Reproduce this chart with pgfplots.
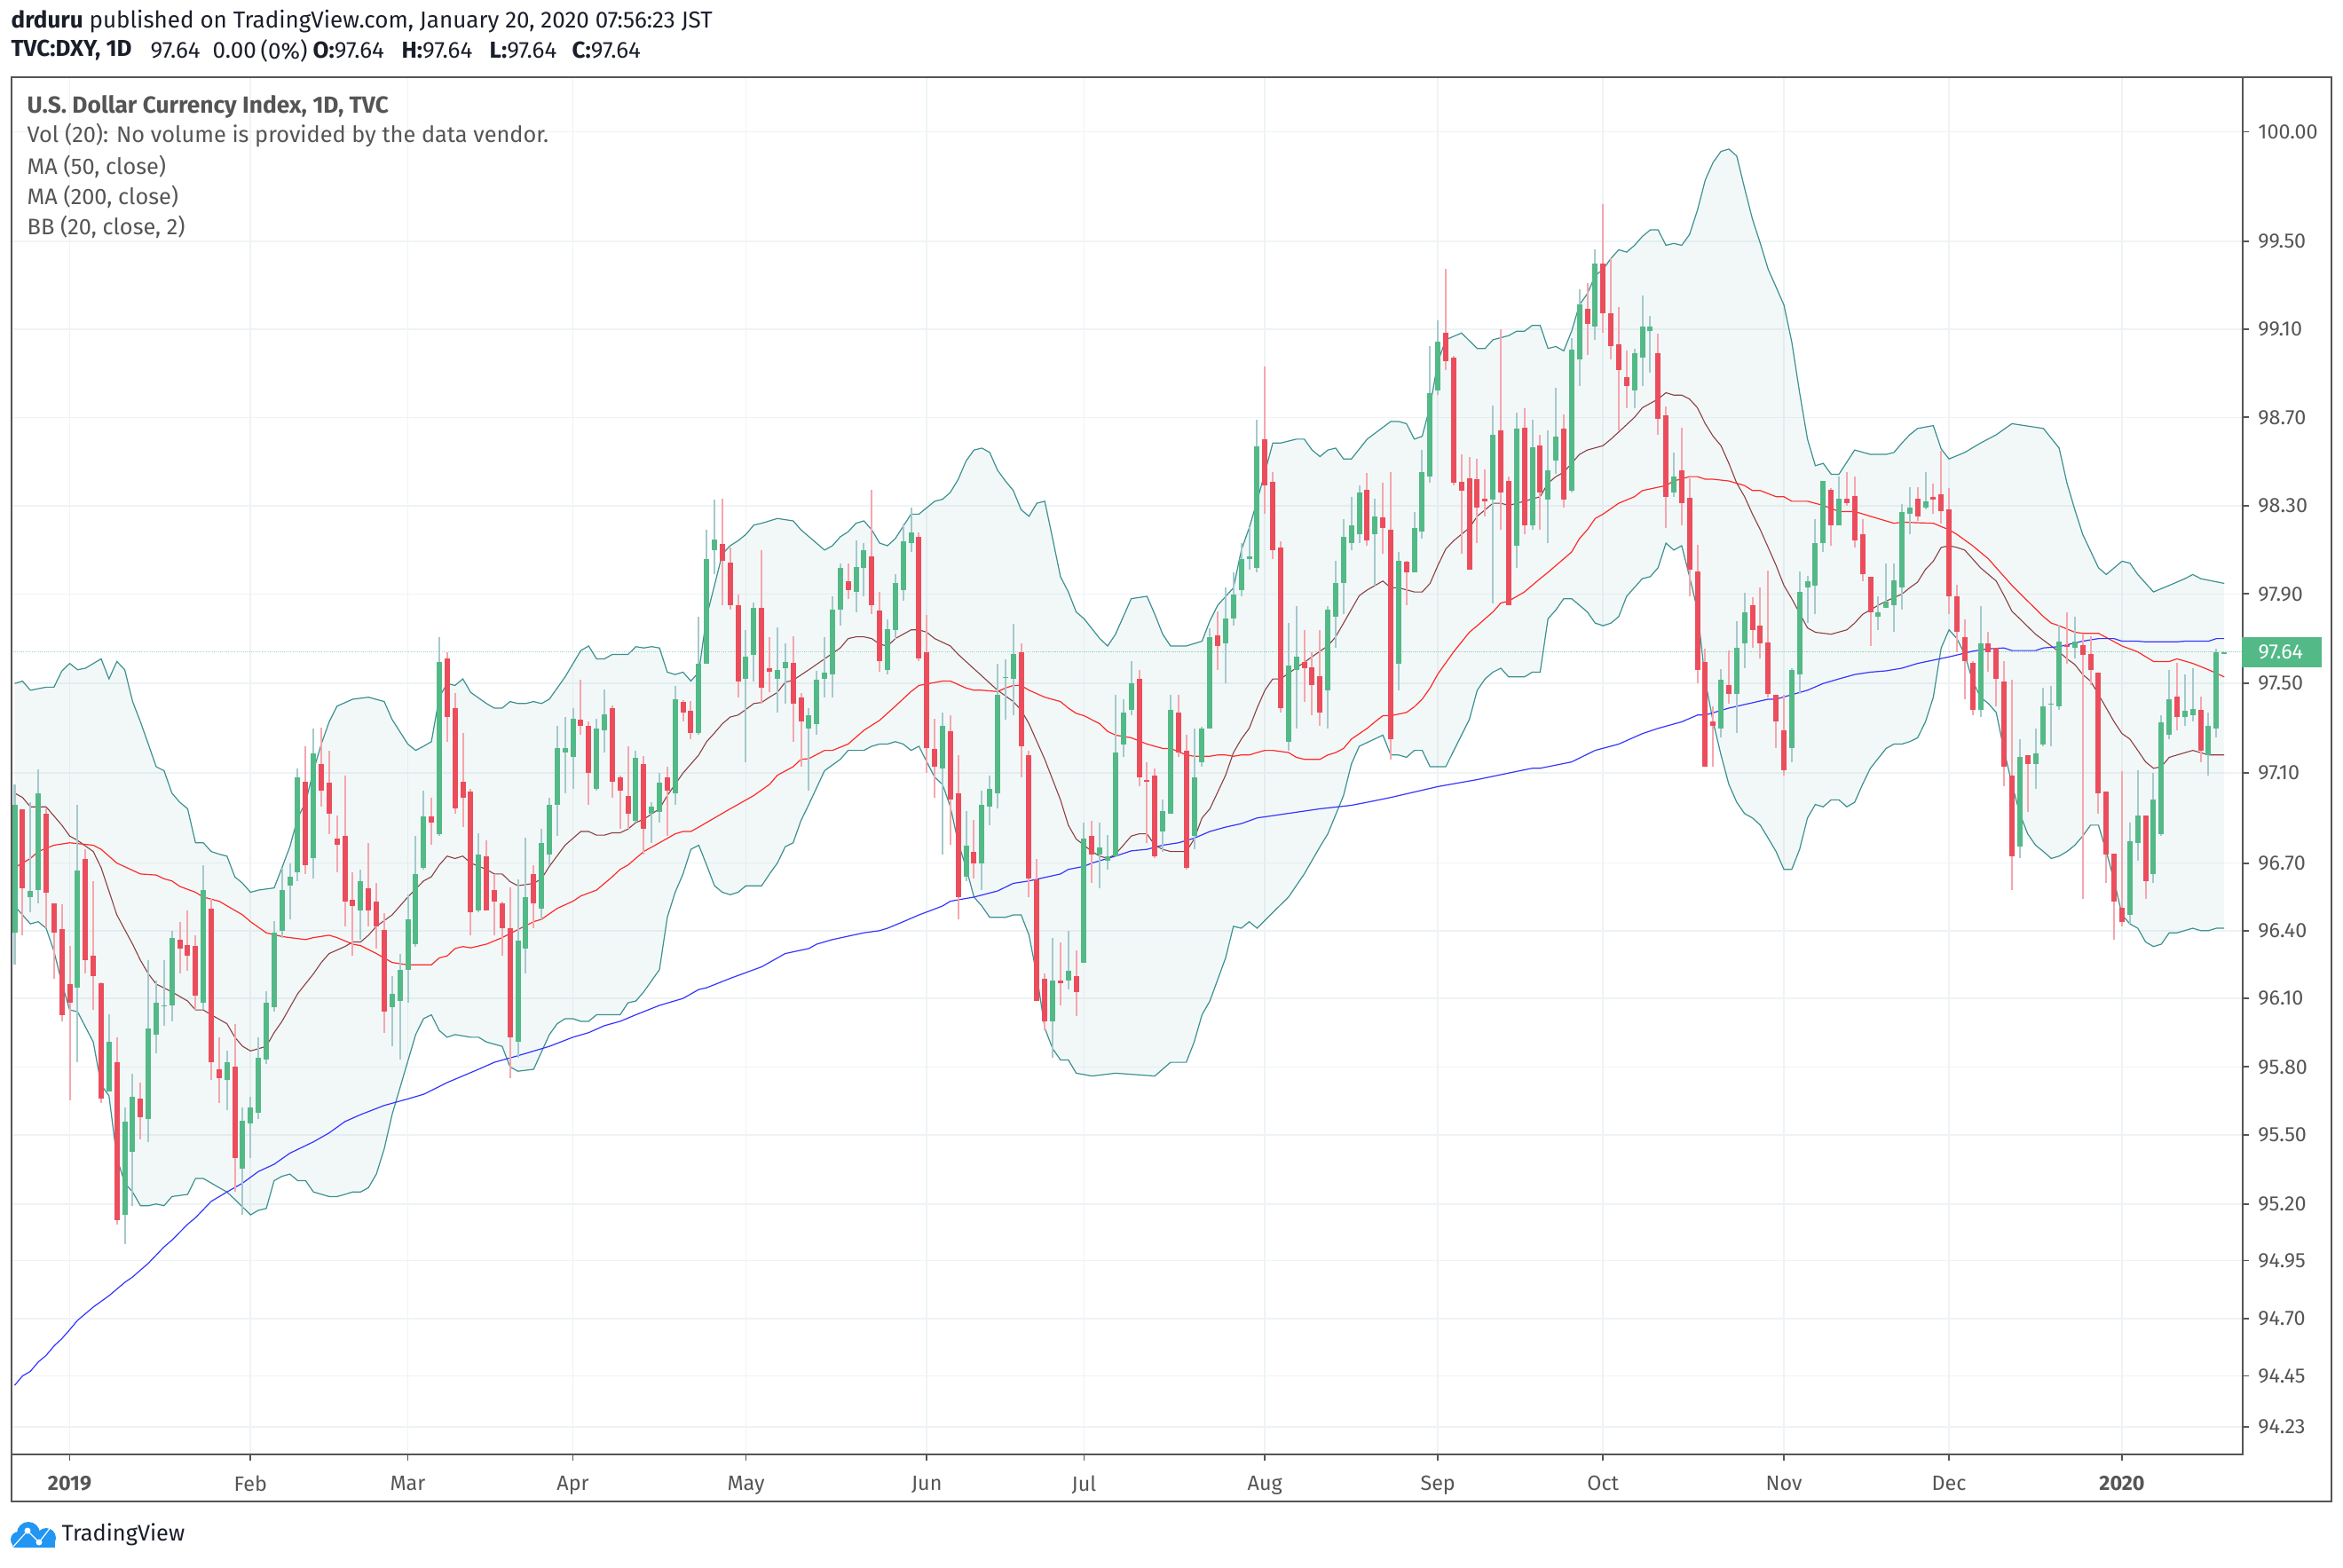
\documentclass[border=0pt]{standalone}
\usepackage{fontspec}
\setmainfont{Fira Sans}
\usepackage{pgfplots}
\usepackage{pgfplotstable}
\pgfplotsset{compat=1.18}
\usepgfplotslibrary{fillbetween}
\definecolor{upc}{HTML}{53B987}
\definecolor{dnc}{HTML}{EB4D5C}
\definecolor{upw}{HTML}{A5C9CC}
\definecolor{dnw}{HTML}{F5A6AE}
\definecolor{bbc}{HTML}{3C9090}
\definecolor{ma20}{HTML}{8B3F42}
\definecolor{ma50}{HTML}{FF2A2A}
\definecolor{ma200}{HTML}{3434FF}
\definecolor{gridc}{HTML}{EFF3F6}
\definecolor{framec}{HTML}{555555}
\definecolor{headc}{HTML}{1A1E2A}
\definecolor{logoc}{HTML}{2196F3}

\pgfplotstableread{
i o h l c
0 96.39 97.05 96.25 96.96
1 96.94 96.94 96.38 96.59
2 96.55 96.97 96.48 96.58
3 96.58 97.12 96.52 97.01
4 96.92 96.94 96.41 96.57
5 96.52 96.52 96.19 96.39
6 96.41 96.52 96.00 96.03
7 96.16 96.33 95.65 96.08
8 96.15 96.96 95.82 96.67
9 96.72 96.76 96.21 96.27
10 96.29 96.62 96.05 96.20
11 96.17 96.17 95.64 95.66
12 95.69 96.03 95.69 95.91
13 95.82 95.93 95.11 95.13
14 95.15 95.62 95.02 95.56
15 95.43 95.77 95.19 95.67
16 95.66 95.73 95.48 95.58
17 95.57 96.27 95.47 95.97
18 95.94 96.18 95.86 96.08
19 96.065 96.27 95.98 96.07
20 96.07 96.40 96.00 96.37
21 96.36 96.44 96.21 96.32
22 96.34 96.49 96.22 96.29
23 96.33 96.38 96.05 96.11
24 96.08 96.69 96.05 96.58
25 96.50 96.54 95.74 95.82
26 95.79 95.93 95.64 95.75
27 95.74 95.87 95.61 95.82
28 95.80 95.99 95.25 95.40
29 95.35 95.62 95.15 95.56
30 95.55 95.67 95.40 95.62
31 95.60 95.93 95.57 95.84
32 95.83 96.13 95.81 96.08
33 96.06 96.44 96.04 96.39
34 96.40 96.68 96.37 96.58
35 96.60 96.70 96.45 96.64
36 96.66 97.12 96.62 97.08
37 97.06 97.22 96.65 96.69
38 96.72 97.30 96.63 97.19
39 97.14 97.30 96.95 97.02
40 97.06 97.20 96.83 96.92
41 96.81 96.91 96.66 96.78
42 96.82 97.09 96.42 96.53
43 96.54 96.66 96.29 96.51
44 96.49 96.67 96.36 96.62
45 96.59 96.79 96.42 96.49
46 96.53 96.61 96.32 96.42
47 96.40 96.48 95.95 96.04
48 96.06 96.20 95.89 96.12
49 96.09 96.30 95.83 96.23
50 96.23 96.56 96.08 96.45
51 96.34 96.82 96.33 96.65
52 96.68 97.02 96.67 96.91
53 96.91 96.99 96.78 96.88
54 96.83 97.71 96.82 97.60
55 97.61 97.64 97.24 97.35
56 97.39 97.46 96.92 96.94
57 97.06 97.28 96.86 96.99
58 97.02 97.03 96.38 96.48
59 96.49 96.83 96.48 96.74
60 96.73 96.80 96.49 96.49
61 96.58 96.65 96.38 96.53
62 96.52 96.53 96.29 96.41
63 96.41 96.59 95.75 95.93
64 95.91 96.63 95.84 96.36
65 96.32 96.81 96.21 96.55
66 96.65 96.69 96.41 96.52
67 96.50 96.85 96.45 96.79
68 96.74 96.99 96.69 96.96
69 96.96 97.31 96.82 97.21
70 97.19 97.35 97.01 97.21
71 97.17 97.39 97.03 97.34
72 97.34 97.52 97.27 97.31
73 97.31 97.33 96.96 97.10
74 97.03 97.34 97.02 97.30
75 97.29 97.47 97.19 97.36
76 97.39 97.40 96.99 97.06
77 97.08 97.09 96.85 97.02
78 97.00 97.22 96.85 96.92
79 96.89 97.20 96.88 97.17
80 97.14 97.18 96.74 96.85
81 96.92 96.97 96.79 96.95
82 96.93 97.10 96.88 97.06
83 97.08 97.13 96.82 97.02
84 97.01 97.49 96.96 97.43
85 97.42 97.43 97.33 97.37
86 97.38 97.42 97.25 97.28
87 97.28 97.80 97.27 97.59
88 97.59 98.19 97.59 98.06
89 98.10 98.33 97.99 98.15
90 98.13 98.33 97.85 98.05
91 98.04 98.11 97.83 97.85
92 97.85 97.90 97.44 97.51
93 97.52 97.74 97.15 97.62
94 97.63 97.86 97.51 97.84
95 97.84 98.10 97.41 97.48
96 97.57 97.71 97.46 97.55
97 97.52 97.75 97.37 97.56
98 97.57 97.68 97.41 97.60
99 97.59 97.71 97.24 97.41
100 97.44 97.46 97.13 97.33
101 97.30 97.39 97.02 97.36
102 97.32 97.56 97.27 97.52
103 97.52 97.71 97.44 97.55
104 97.54 97.89 97.44 97.83
105 97.83 98.04 97.76 98.02
106 97.96 98.04 97.88 97.92
107 97.91 98.14 97.82 98.02
108 98.02 98.13 97.89 98.10
109 98.07 98.37 97.81 97.85
110 97.83 97.91 97.55 97.60
111 97.56 97.79 97.54 97.74
112 97.74 97.99 97.70 97.95
113 97.92 98.22 97.87 98.14
114 98.13 98.29 98.09 98.18
115 98.16 98.18 97.60 97.61
116 97.64 97.81 97.10 97.21
117 97.21 97.34 96.99 97.13
118 97.12 97.37 96.74 97.31
119 97.29 97.36 96.78 96.98
120 97.01 97.18 96.45 96.55
121 96.64 96.93 96.62 96.78
122 96.75 96.89 96.63 96.70
123 96.70 97.02 96.58 96.96
124 96.95 97.09 96.87 97.03
125 97.01 97.59 96.94 97.45
126 97.525 97.61 97.34 97.53
127 97.52 97.77 97.36 97.63
128 97.64 97.68 97.08 97.22
129 97.18 97.20 96.55 96.63
130 96.63 96.72 96.09 96.09
131 96.19 96.21 95.96 96.00
132 96.00 96.37 95.84 96.18
133 96.18 96.35 96.07 96.17
134 96.18 96.40 96.14 96.22
135 96.20 96.31 96.02 96.13
136 96.26 96.88 96.26 96.81
137 96.82 96.89 96.61 96.74
138 96.74 96.88 96.59 96.77
139 96.71 96.82 96.67 96.73
140 96.73 97.45 96.73 97.19
141 97.23 97.43 97.17 97.37
142 97.38 97.60 97.36 97.50
143 97.52 97.56 97.04 97.08
144 97.07 97.15 96.79 97.06
145 97.09 97.12 96.72 96.73
146 96.84 96.98 96.75 96.93
147 96.92 97.45 96.92 97.38
148 97.37 97.45 97.17 97.19
149 97.20 97.27 96.67 96.68
150 96.82 97.30 96.76 97.08
151 97.15 97.31 97.13 97.30
152 97.30 97.75 97.30 97.71
153 97.72 97.82 97.56 97.67
154 97.68 97.93 97.50 97.79
155 97.79 98.00 97.76 97.90
156 97.92 98.13 97.89 98.06
157 98.06 98.20 98.01 98.07
158 98.02 98.69 98.00 98.57
159 98.60 98.93 98.26 98.39
160 98.41 98.45 98.06 98.10
161 98.11 98.14 97.37 97.39
162 97.24 97.77 97.20 97.58
163 97.56 97.85 97.30 97.62
164 97.60 97.74 97.42 97.57
165 97.57 97.64 97.36 97.49
166 97.53 97.74 97.31 97.37
167 97.47 97.85 97.30 97.83
168 97.80 98.05 97.66 97.95
169 97.95 98.24 97.81 98.16
170 98.13 98.34 98.10 98.21
171 98.17 98.39 98.13 98.36
172 98.37 98.45 98.12 98.14
173 98.17 98.33 97.94 98.25
174 98.25 98.40 98.08 98.20
175 98.19 98.45 97.16 97.25
176 97.59 98.09 97.47 98.05
177 98.05 98.05 97.85 98.00
178 98.00 98.27 98.00 98.20
179 98.18 98.55 98.15 98.45
180 98.43 99.02 98.40 98.81
181 98.82 99.14 98.80 99.04
182 99.08 99.37 98.91 98.95
183 98.97 98.98 98.39 98.40
184 98.41 98.53 98.08 98.37
185 98.42 98.52 98.01 98.01
186 98.42 98.51 98.13 98.29
187 98.33 98.46 98.25 98.32
188 98.33 98.75 97.86 98.62
189 98.64 99.10 98.19 98.36
190 98.41 98.43 97.85 97.85
191 98.12 98.72 98.02 98.65
192 98.65 98.74 98.17 98.21
193 98.21 98.69 98.19 98.56
194 98.57 98.62 98.19 98.36
195 98.33 98.64 98.13 98.46
196 98.50 98.83 98.44 98.61
197 98.65 98.71 98.29 98.33
198 98.37 99.06 98.36 99.01
199 98.96 99.28 98.84 99.21
200 99.19 99.31 98.98 99.12
201 99.11 99.46 99.05 99.40
202 99.40 99.67 99.08 99.17
203 99.17 99.42 98.96 99.02
204 99.03 99.20 98.64 98.91
205 98.88 99.00 98.74 98.84
206 98.82 99.01 98.74 98.99
207 98.97 99.25 98.84 99.11
208 99.09 99.16 98.90 99.11
209 98.99 99.08 98.62 98.69
210 98.71 98.75 98.20 98.34
211 98.36 98.54 98.34 98.43
212 98.46 98.65 98.21 98.31
213 98.33 98.42 97.89 98.01
214 98.00 98.12 97.50 97.56
215 97.60 97.66 97.13 97.13
216 97.33 97.40 97.13 97.31
217 97.30 97.57 97.26 97.52
218 97.49 97.65 97.41 97.45
219 97.45 97.78 97.28 97.66
220 97.68 97.91 97.57 97.82
221 97.85 97.89 97.66 97.74
222 97.76 97.93 97.61 97.68
223 97.68 98.01 97.44 97.45
224 97.45 97.45 97.21 97.33
225 97.29 97.45 97.09 97.11
226 97.21 97.57 97.15 97.56
227 97.54 98.00 97.45 97.91
228 97.93 97.98 97.77 97.96
229 97.94 98.24 97.81 98.13
230 98.13 98.41 98.09 98.41
231 98.37 98.38 98.12 98.21
232 98.21 98.43 98.21 98.33
233 98.33 98.45 98.30 98.31
234 98.34 98.43 98.11 98.14
235 98.17 98.24 97.96 97.99
236 97.98 97.98 97.67 97.82
237 97.80 97.89 97.74 97.82
238 97.84 98.04 97.84 97.87
239 97.85 98.04 97.73 97.96
240 97.93 98.31 97.83 98.27
241 98.26 98.38 98.17 98.29
242 98.33 98.38 98.23 98.25
243 98.29 98.45 98.28 98.32
244 98.34 98.40 98.26 98.33
245 98.35 98.55 98.22 98.27
246 98.28 98.38 97.81 97.89
247 97.89 97.94 97.64 97.73
248 97.71 97.79 97.43 97.60
249 97.59 97.60 97.36 97.38
250 97.38 97.85 97.35 97.68
251 97.68 97.73 97.55 97.64
252 97.66 97.66 97.40 97.52
253 97.51 97.60 97.04 97.13
254 97.09 97.52 96.58 96.73
255 96.77 97.25 96.72 97.17
256 97.18 97.18 96.93 97.14
257 97.14 97.30 97.03 97.19
258 97.23 97.48 97.22 97.40
259 97.405 97.49 97.22 97.41
260 97.40 97.76 97.38 97.69
261 97.67 97.82 97.59 97.665
262 97.66 97.80 97.61 97.69
263 97.67 97.72 96.54 97.63
264 97.63 97.71 97.49 97.56
265 97.55 97.55 96.92 97.01
266 97.02 97.02 96.61 96.74
267 96.74 96.74 96.36 96.53
268 96.50 97.11 96.42 96.44
269 96.47 96.88 96.43 96.80
270 96.79 97.11 96.71 96.91
271 96.91 96.91 96.54 96.62
272 96.65 97.10 96.61 96.98
273 96.83 97.36 96.82 97.33
274 97.27 97.56 97.25 97.43
275 97.44 97.59 97.29 97.35
276 97.35 97.54 97.31 97.38
277 97.36 97.57 97.33 97.39
278 97.38 97.44 97.15 97.20
279 97.18 97.37 97.09 97.31
280 97.30 97.66 97.26 97.64
281 97.636 97.64 97.636 97.64
}\candles

\begin{document}
\begin{tikzpicture}
\begin{axis}[
	at={(3.9pt,38.1pt)},
	anchor=south west,
	scale only axis,
	width=754.2pt,
	height=465.6pt,
	% TradingView log scale, kept in prices
	y coord trafo/.code={\pgfmathparse{1000*ln(#1/94)}},
	xmin=-0.395,
	xmax=283.35,
	ymin=94.11,
	ymax=100.25,
	xtick={7,30,50,71,93,116,136,159,181,202,225,246,268},
	xticklabels={\textbf{2019},Feb,Mar,Apr,May,Jun,Jul,Aug,Sep,Oct,Nov,Dec,\textbf{2020}},
	ytick={100,99.5,99.1,98.7,98.3,97.9,97.5,97.1,96.7,96.4,96.1,95.8,95.5,95.2,94.95,94.7,94.45,94.23},
	yticklabels={100.00,99.50,99.10,98.70,98.30,97.90,97.50,97.10,96.70,96.40,96.10,95.80,95.50,95.20,94.95,94.70,94.45,94.23},
	minor tick num=0,
	grid=major,
	grid style={color=gridc,line width=.5pt},
	tick align=outside,
	major tick length=2.2pt,
	xtick pos=bottom,
	ytick pos=right,
	tick style={color=framec,line width=.55pt},
	axis line style={color=framec,line width=.75pt},
	tick label style={font=\fontsize{7}{8}\selectfont,text=framec},
	yticklabel style={anchor=west,xshift=-.5pt},
	xticklabel style={yshift=-1.6pt},
]
% bollinger bands
\addplot[name path=up,color=bbc,line width=.36pt] coordinates {
(0,97.50)(1,97.51)(2,97.47)(4,97.485)(5,97.485)(6,97.555)(7,97.59)(8,97.56)(9,97.57)(11,97.61)(12,97.52)(13,97.60)(14,97.56)(15,97.42)(16,97.33)(17,97.23)(18,97.13)(19,97.11)(20,97.01)(21,96.97)(22,96.94)(23,96.79)(24,96.79)(25,96.75)(26,96.74)(27,96.73)(28,96.64)(29,96.61)(30,96.57)(31,96.58)(33,96.59)(34,96.68)(35,96.77)(36,96.90)(37,96.97)(38,97.11)(39,97.23)(40,97.33)(41,97.40)(43,97.43)(45,97.44)(47,97.42)(48,97.34)(50,97.23)(51,97.20)(52,97.22)(53,97.24)(54,97.44)(55,97.50)(56,97.49)(57,97.52)(58,97.46)(60,97.41)(61,97.39)(62,97.39)(63,97.42)(64,97.41)(65,97.41)(66,97.42)(67,97.41)(68,97.43)(70,97.53)(72,97.65)(73,97.67)(74,97.61)(75,97.61)(76,97.63)(77,97.63)(78,97.63)(79,97.665)(80,97.66)(81,97.665)(82,97.66)(83,97.55)(84,97.54)(85,97.55)(86,97.51)(87,97.55)(88,97.80)(90,98.08)(91,98.12)(92,98.14)(93,98.17)(94,98.21)(95,98.22)(97,98.24)(99,98.23)(100,98.19)(103,98.10)(104,98.12)(105,98.16)(106,98.18)(107,98.22)(108,98.23)(109,98.19)(110,98.13)(111,98.12)(112,98.15)(114,98.26)(115,98.26)(117,98.32)(118,98.33)(119,98.36)(120,98.42)(121,98.50)(122,98.55)(123,98.56)(124,98.54)(125,98.46)(126,98.41)(127,98.37)(128,98.28)(129,98.25)(130,98.31)(131,98.32)(132,98.15)(133,97.98)(134,97.91)(135,97.82)(136,97.79)(138,97.70)(139,97.67)(140,97.72)(142,97.88)(144,97.89)(145,97.81)(146,97.72)(147,97.67)(149,97.67)(151,97.69)(152,97.78)(153,97.85)(155,97.93)(156,98.10)(157,98.20)(158,98.32)(159,98.45)(160,98.58)(161,98.58)(163,98.60)(164,98.60)(165,98.55)(166,98.52)(167,98.55)(168,98.56)(169,98.51)(170,98.51)(172,98.60)(175,98.68)(176,98.68)(177,98.67)(178,98.60)(179,98.61)(180,98.75)(181,98.95)(182,99.05)(184,99.08)(186,99.01)(187,99.01)(188,99.05)(190,99.07)(191,99.09)(192,99.09)(193,99.115)(194,99.115)(195,99.01)(196,99.02)(197,99.00)(198,99.09)(199,99.21)(200,99.26)(201,99.34)(202,99.37)(203,99.42)(204,99.46)(205,99.45)(206,99.48)(207,99.52)(208,99.55)(209,99.55)(210,99.48)(211,99.49)(212,99.48)(213,99.53)(214,99.64)(215,99.78)(216,99.86)(217,99.91)(218,99.92)(219,99.89)(220,99.74)(221,99.60)(222,99.49)(223,99.37)(224,99.29)(225,99.21)(226,99.04)(227,98.81)(228,98.60)(229,98.48)(230,98.49)(231,98.44)(232,98.44)(234,98.55)(236,98.53)(238,98.53)(239,98.54)(240,98.58)(241,98.62)(242,98.65)(244,98.66)(245,98.555)(246,98.51)(248,98.54)(250,98.58)(252,98.62)(254,98.67)(258,98.65)(260,98.56)(261,98.40)(262,98.28)(263,98.17)(265,98.02)(266,97.99)(268,98.05)(269,98.04)(270,97.99)(272,97.91)(274,97.94)(276,97.97)(277,97.99)(278,97.97)(281,97.95)
};
\addplot[name path=lo,color=bbc,line width=.36pt] coordinates {
(0,96.51)(1,96.47)(2,96.43)(3,96.44)(4,96.41)(5,96.31)(6,96.17)(7,96.05)(8,96.04)(10,95.91)(11,95.72)(12,95.67)(13,95.40)(14,95.29)(15,95.25)(16,95.19)(17,95.19)(18,95.20)(19,95.19)(20,95.23)(22,95.24)(23,95.31)(24,95.31)(26,95.27)(27,95.25)(28,95.22)(30,95.15)(31,95.17)(32,95.18)(33,95.30)(34,95.32)(35,95.33)(36,95.30)(37,95.30)(38,95.25)(40,95.23)(41,95.23)(42,95.24)(43,95.25)(44,95.25)(45,95.27)(46,95.33)(47,95.44)(48,95.59)(51,95.94)(52,96.01)(53,96.03)(54,95.96)(55,95.93)(56,95.94)(58,95.93)(59,95.93)(60,95.91)(62,95.89)(63,95.80)(64,95.78)(66,95.79)(68,95.94)(69,95.99)(70,96.01)(71,96.01)(72,96.00)(73,96.00)(74,96.03)(77,96.03)(78,96.08)(79,96.09)(80,96.13)(82,96.23)(83,96.46)(84,96.57)(85,96.65)(86,96.76)(87,96.78)(88,96.69)(89,96.60)(90,96.57)(91,96.56)(92,96.57)(93,96.60)(95,96.60)(96,96.65)(97,96.70)(98,96.77)(99,96.79)(100,96.89)(101,96.96)(103,97.11)(105,97.16)(106,97.20)(108,97.20)(109,97.22)(110,97.23)(111,97.23)(112,97.24)(113,97.23)(114,97.20)(115,97.22)(116,97.15)(117,97.08)(118,97.05)(119,96.95)(120,96.79)(121,96.68)(122,96.55)(123,96.51)(124,96.46)(126,96.46)(127,96.47)(128,96.47)(129,96.38)(130,96.20)(131,95.97)(132,95.88)(133,95.83)(134,95.83)(135,95.77)(137,95.76)(140,95.77)(145,95.76)(147,95.82)(149,95.82)(150,95.91)(151,96.03)(152,96.09)(154,96.28)(155,96.42)(156,96.41)(157,96.44)(158,96.41)(160,96.48)(162,96.55)(164,96.65)(166,96.77)(167,96.83)(169,97.00)(170,97.14)(171,97.22)(174,97.27)(175,97.18)(176,97.18)(177,97.17)(178,97.20)(179,97.20)(180,97.13)(182,97.13)(184,97.27)(185,97.34)(186,97.47)(187,97.52)(188,97.55)(189,97.57)(190,97.53)(192,97.53)(193,97.55)(194,97.55)(195,97.79)(196,97.83)(197,97.88)(198,97.88)(199,97.85)(200,97.82)(201,97.77)(202,97.76)(203,97.77)(204,97.80)(205,97.89)(207,97.97)(208,97.98)(209,98.02)(210,98.13)(211,98.10)(212,98.12)(213,97.98)(214,97.83)(215,97.51)(216,97.33)(217,97.18)(218,97.05)(219,96.97)(220,96.92)(221,96.90)(222,96.87)(223,96.81)(224,96.75)(225,96.67)(226,96.67)(227,96.76)(228,96.90)(229,96.96)(230,96.95)(231,96.98)(232,96.98)(233,96.95)(234,96.97)(235,97.05)(236,97.12)(238,97.21)(239,97.23)(240,97.23)(241,97.24)(242,97.26)(243,97.33)(244,97.44)(245,97.66)(246,97.74)(247,97.70)(248,97.63)(249,97.51)(250,97.44)(251,97.41)(252,97.37)(253,97.20)(254,97.05)(255,96.92)(256,96.83)(257,96.78)(258,96.75)(259,96.72)(260,96.73)(261,96.75)(262,96.78)(263,96.82)(264,96.87)(265,96.87)(266,96.75)(267,96.62)(268,96.47)(269,96.43)(270,96.41)(271,96.35)(272,96.33)(273,96.34)(274,96.39)(275,96.39)(277,96.41)(278,96.40)(279,96.40)(280,96.41)(281,96.41)
};
\addplot[fill=bbc,fill opacity=.065,draw=none] fill between[of=up and lo];
% last price line
\addplot[upc,opacity=.55,line width=.35pt,dash pattern=on .35pt off .35pt] coordinates {(-1,97.64)(284,97.64)};
% moving averages
\addplot[ma20,line width=.33pt] coordinates {
(0,97.01)(1,96.99)(2,96.95)(4,96.95)(6,96.87)(7,96.82)(8,96.80)(10,96.75)(11,96.68)(13,96.47)(15,96.34)(16,96.27)(17,96.21)(18,96.165)(20,96.13)(22,96.09)(23,96.05)(24,96.05)(25,96.03)(27,95.99)(28,95.93)(29,95.89)(30,95.87)(32,95.89)(33,95.95)(34,96.00)(36,96.12)(38,96.21)(39,96.26)(40,96.30)(42,96.33)(43,96.35)(44,96.35)(45,96.38)(46,96.42)(48,96.47)(50,96.55)(52,96.62)(53,96.64)(54,96.69)(55,96.73)(56,96.72)(57,96.73)(58,96.70)(60,96.67)(61,96.65)(62,96.65)(63,96.615)(64,96.60)(66,96.61)(67,96.63)(68,96.685)(70,96.78)(72,96.84)(73,96.84)(74,96.825)(75,96.825)(76,96.835)(77,96.835)(78,96.85)(79,96.88)(80,96.895)(82,96.94)(83,97.00)(85,97.10)(87,97.18)(88,97.24)(89,97.28)(90,97.32)(91,97.35)(92,97.36)(93,97.385)(94,97.41)(95,97.416)(96,97.44)(97,97.46)(98,97.505)(99,97.515)(101,97.56)(103,97.61)(105,97.66)(106,97.70)(107,97.71)(108,97.71)(109,97.70)(110,97.675)(111,97.67)(112,97.70)(113,97.72)(114,97.74)(115,97.74)(116,97.73)(117,97.70)(119,97.67)(120,97.63)(125,97.47)(127,97.42)(128,97.38)(129,97.32)(131,97.16)(132,97.07)(133,96.98)(134,96.87)(135,96.805)(136,96.78)(137,96.75)(138,96.73)(139,96.72)(140,96.74)(141,96.78)(142,96.82)(143,96.83)(144,96.83)(145,96.78)(146,96.76)(147,96.75)(149,96.75)(150,96.805)(151,96.90)(152,96.94)(154,97.09)(155,97.19)(156,97.25)(157,97.30)(158,97.39)(159,97.47)(160,97.52)(161,97.52)(164,97.595)(166,97.645)(167,97.67)(168,97.71)(169,97.77)(171,97.895)(172,97.92)(174,97.96)(175,97.93)(176,97.93)(178,97.91)(179,97.91)(180,97.95)(181,98.03)(182,98.105)(183,98.14)(185,98.20)(186,98.25)(187,98.28)(188,98.31)(189,98.31)(190,98.30)(192,98.32)(194,98.34)(195,98.40)(196,98.43)(197,98.45)(198,98.49)(199,98.53)(200,98.55)(202,98.57)(203,98.60)(204,98.63)(206,98.70)(207,98.74)(209,98.78)(210,98.81)(211,98.80)(212,98.80)(213,98.78)(214,98.74)(215,98.67)(216,98.61)(217,98.57)(218,98.49)(219,98.40)(220,98.34)(221,98.26)(222,98.19)(223,98.11)(224,98.03)(225,97.94)(226,97.88)(228,97.75)(229,97.73)(231,97.72)(233,97.74)(234,97.77)(235,97.81)(237,97.85)(238,97.87)(240,97.90)(241,97.93)(242,97.955)(243,98.01)(244,98.05)(245,98.11)(246,98.12)(247,98.11)(248,98.10)(250,98.02)(252,97.96)(253,97.895)(254,97.825)(255,97.79)(257,97.72)(259,97.67)(260,97.64)(261,97.61)(262,97.585)(263,97.54)(264,97.51)(265,97.45)(266,97.39)(267,97.33)(268,97.275)(269,97.25)(270,97.20)(271,97.15)(272,97.12)(273,97.13)(274,97.17)(275,97.18)(277,97.20)(279,97.18)(281,97.18)
};
\addplot[ma50,line width=.36pt] coordinates {
(0,96.68)(2,96.72)(3,96.75)(5,96.78)(7,96.79)(10,96.78)(11,96.76)(13,96.70)(16,96.65)(18,96.645)(19,96.63)(20,96.62)(21,96.595)(23,96.57)(24,96.55)(26,96.53)(28,96.49)(29,96.47)(30,96.44)(32,96.39)(34,96.375)(35,96.37)(37,96.36)(38,96.37)(40,96.38)(41,96.37)(43,96.34)(44,96.335)(46,96.30)(48,96.26)(50,96.25)(53,96.25)(54,96.28)(55,96.29)(56,96.32)(57,96.33)(58,96.325)(60,96.34)(62,96.37)(64,96.405)(66,96.44)(67,96.45)(69,96.50)(71,96.53)(72,96.555)(74,96.58)(76,96.64)(77,96.67)(78,96.69)(80,96.75)(82,96.79)(84,96.83)(85,96.84)(86,96.84)(87,96.86)(88,96.88)(89,96.90)(91,96.94)(92,96.96)(94,97.00)(96,97.05)(97,97.09)(99,97.13)(100,97.16)(101,97.165)(103,97.20)(104,97.20)(106,97.23)(108,97.29)(110,97.335)(112,97.40)(114,97.465)(115,97.49)(118,97.51)(119,97.51)(121,97.48)(122,97.47)(123,97.47)(125,97.465)(126,97.48)(127,97.49)(128,97.49)(129,97.47)(131,97.44)(133,97.42)(134,97.39)(135,97.365)(136,97.355)(138,97.32)(139,97.285)(140,97.27)(142,97.26)(144,97.23)(145,97.22)(146,97.21)(147,97.21)(149,97.18)(150,97.175)(152,97.175)(153,97.18)(154,97.18)(155,97.175)(156,97.18)(157,97.18)(158,97.19)(159,97.20)(160,97.20)(162,97.19)(163,97.17)(164,97.16)(166,97.16)(167,97.18)(168,97.19)(169,97.21)(170,97.25)(172,97.30)(173,97.33)(174,97.355)(175,97.355)(177,97.37)(178,97.395)(179,97.43)(180,97.48)(181,97.545)(183,97.64)(185,97.73)(186,97.76)(187,97.79)(188,97.82)(189,97.86)(190,97.87)(192,97.91)(194,97.97)(195,98.00)(198,98.09)(199,98.15)(200,98.19)(201,98.24)(202,98.26)(204,98.31)(206,98.34)(207,98.37)(210,98.39)(211,98.41)(213,98.43)(214,98.43)(215,98.42)(216,98.42)(218,98.41)(220,98.39)(221,98.37)(222,98.37)(224,98.34)(225,98.34)(226,98.32)(228,98.32)(230,98.30)(232,98.27)(234,98.27)(236,98.25)(239,98.22)(240,98.225)(244,98.22)(246,98.19)(247,98.17)(249,98.12)(251,98.06)(252,98.02)(254,97.94)(256,97.87)(258,97.80)(259,97.77)(260,97.76)(262,97.73)(263,97.725)(265,97.725)(266,97.705)(268,97.67)(270,97.64)(272,97.60)(274,97.60)(275,97.61)(277,97.59)(279,97.56)(281,97.53)
};
\addplot[ma200,line width=.36pt] coordinates {
(0,94.41)(1,94.45)(2,94.47)(3,94.51)(4,94.54)(5,94.58)(6,94.61)(7,94.65)(8,94.69)(10,94.75)(12,94.80)(14,94.855)(15,94.88)(17,94.94)(19,95.01)(20,95.04)(22,95.11)(23,95.14)(25,95.21)(27,95.25)(29,95.29)(31,95.34)(33,95.37)(35,95.42)(38,95.47)(40,95.51)(42,95.56)(44,95.59)(47,95.63)(50,95.66)(52,95.68)(55,95.73)(59,95.79)(61,95.82)(64,95.85)(68,95.89)(71,95.93)(73,95.95)(75,95.98)(77,96.00)(79,96.03)(82,96.07)(85,96.10)(87,96.14)(88,96.15)(91,96.19)(95,96.24)(98,96.30)(101,96.32)(102,96.34)(104,96.36)(108,96.39)(110,96.40)(111,96.41)(113,96.44)(115,96.47)(118,96.51)(119,96.53)(122,96.55)(125,96.575)(127,96.61)(129,96.62)(133,96.65)(134,96.67)(136,96.685)(137,96.70)(140,96.73)(142,96.755)(144,96.76)(146,96.78)(148,96.79)(150,96.81)(152,96.84)(154,96.86)(156,96.875)(158,96.90)(166,96.94)(170,96.955)(172,96.97)(175,96.99)(181,97.04)(186,97.07)(190,97.10)(193,97.12)(194,97.12)(198,97.15)(201,97.20)(204,97.23)(207,97.275)(209,97.30)(212,97.33)(214,97.36)(215,97.36)(218,97.39)(223,97.43)(224,97.43)(228,97.47)(230,97.50)(232,97.52)(234,97.54)(236,97.55)(238,97.557)(240,97.57)(242,97.59)(246,97.62)(249,97.645)(251,97.655)(253,97.66)(254,97.65)(257,97.65)(258,97.66)(260,97.665)(263,97.69)(265,97.70)(267,97.70)(268,97.69)(270,97.69)(271,97.685)(275,97.685)(276,97.69)(279,97.69)(280,97.70)(281,97.70)
};
% wicks, error lengths in transformed units
\addplot[draw=none,forget plot,restrict expr to domain={\thisrow{c}-\thisrow{o}}{0:10},
	error bars/.cd,y dir=plus,y explicit,error mark=none,error bar style={color=upw,line width=.6pt}]
	table[x=i,y=l,y error expr={1000*ln(\thisrow{h}/\thisrow{l})}] {\candles};
\addplot[draw=none,forget plot,restrict expr to domain={\thisrow{c}-\thisrow{o}}{-10:-0.0001},
	error bars/.cd,y dir=plus,y explicit,error mark=none,error bar style={color=dnw,line width=.6pt}]
	table[x=i,y=l,y error expr={1000*ln(\thisrow{h}/\thisrow{l})}] {\candles};
% bodies
\addplot[draw=none,forget plot,restrict expr to domain={\thisrow{c}-\thisrow{o}}{0:10},
	error bars/.cd,y dir=plus,y explicit,error mark=none,error bar style={color=upc,line width=1.8pt}]
	table[x=i,y=o,y error expr={1000*ln(\thisrow{c}/\thisrow{o})}] {\candles};
\addplot[draw=none,forget plot,restrict expr to domain={\thisrow{c}-\thisrow{o}}{-10:-0.0001},
	error bars/.cd,y dir=plus,y explicit,error mark=none,error bar style={color=dnc,line width=1.8pt}]
	table[x=i,y=c,y error expr={1000*ln(\thisrow{o}/\thisrow{c})}] {\candles};
\end{axis}
\begin{scope}[shift={(0pt,529.8pt)},x=.3pt,y=-.3pt]
	\draw[framec,line width=.75pt] (13,87) rectangle (2627,1692);
	\fill[upc] (2526,718) rectangle (2616,752);
	\node[anchor=west,text=white,font=\fontsize{7}{8}\selectfont,inner sep=0pt] at (2544,735) {97.64};
	\tikzset{hd/.style={anchor=west,text=headc,font=\fontsize{7.8}{9}\selectfont,inner sep=0pt}}
	\node[hd] at (12,24) {\textbf{drduru} published on TradingView.com, January 20, 2020 07:56:23 JST};
	\node[hd] at (12,57) {\textbf{TVC:DXY, 1D}};
	\node[hd] at (169,57) {97.64};
	\node[hd] at (239,57) {0.00};
	\node[hd] at (293,57) {(0\%)};
	\node[hd] at (352,57) {\textbf{O:}97.64};
	\node[hd] at (452,57) {\textbf{H:}97.64};
	\node[hd] at (551,57) {\textbf{L:}97.64};
	\node[hd] at (644,57) {\textbf{C:}97.64};
	\tikzset{lg/.style={anchor=west,text=framec,font=\fontsize{7.6}{9}\selectfont,inner sep=0pt}}
	\node[lg,font=\fontsize{7.9}{9}\selectfont\bfseries] at (30,120) {U.S. Dollar Currency Index, 1D, TVC};
	\node[lg] at (30,153) {Vol (20): No volume is provided by the data vendor.};
	\node[lg] at (30,188) {MA (50, close)};
	\node[lg] at (30,222) {MA (200, close)};
	\node[lg] at (30,256) {BB (20, close, 2)};
	% logo
	\fill[logoc] (32,1728) circle (13);
	\fill[logoc] (21,1735) circle (9);
	\fill[logoc] (52,1733) circle (11);
	\fill[logoc] (14,1733) rectangle (62,1744);
	\draw[white,line width=.35pt] (14,1744) -- (31,1725) -- (44,1738) -- (58,1720);
	\fill[white] (31,1725) circle (3.5);
	\fill[white] (44,1738) circle (3.5);
	\node[anchor=west,text=headc,font=\fontsize{7.6}{9}\selectfont,inner sep=0pt] at (69,1729) {TradingView};
\end{scope}
\useasboundingbox (0pt,0pt) rectangle (792pt,529.8pt);
\end{tikzpicture}
\end{document}
